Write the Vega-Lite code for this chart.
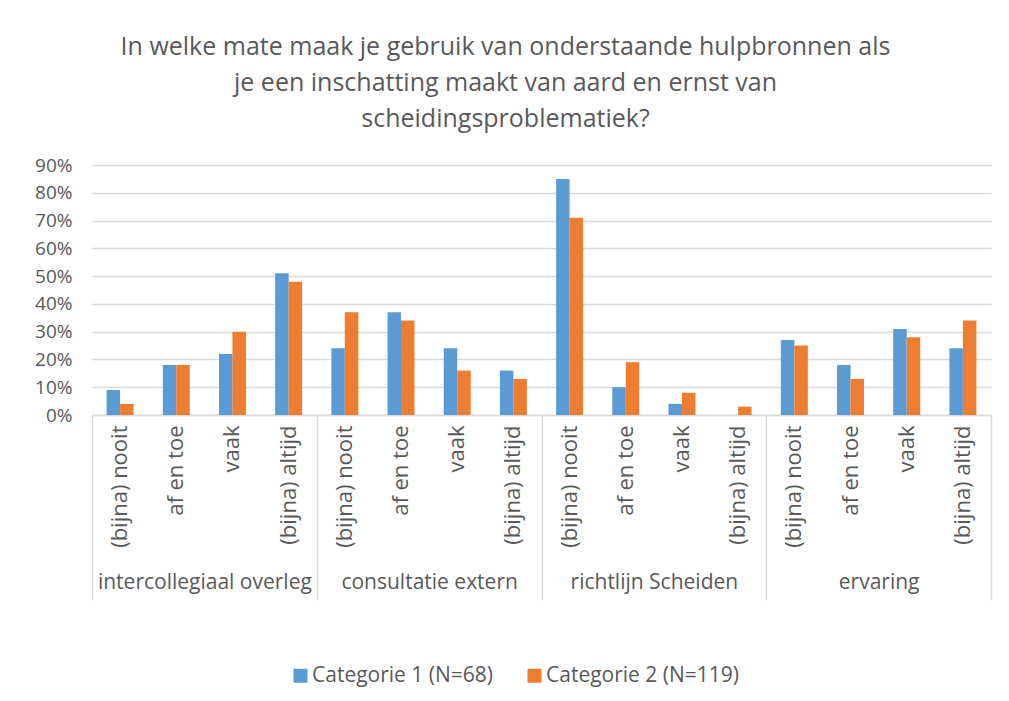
{
  "$schema": "https://vega.github.io/schema/vega-lite/v6.json",
  "width": 899,
  "height": 250,
  "autosize": {"type": "none"},
  "padding": {"left": 92, "top": 165, "right": 18, "bottom": 286},
  "background": "white",
  "title": {
    "text": ["In welke mate maak je gebruik van onderstaande hulpbronnen als", "je een inschatting maakt van aard en ernst van", "scheidingsproblematiek?"],
    "fontSize": 25,
    "font": "Open Sans",
    "fontWeight": "normal",
    "color": "#595959",
    "lineHeight": 36,
    "offset": 24,
    "dx": -36,
    "anchor": "middle"
  },
  "data": {
    "values": [
      {"group": "intercollegiaal overleg", "sub": "(bijna) nooit", "key": "intercollegiaal overleg|(bijna) nooit", "series": "Categorie 1 (N=68)", "value": 0.09},
      {"group": "intercollegiaal overleg", "sub": "(bijna) nooit", "key": "intercollegiaal overleg|(bijna) nooit", "series": "Categorie 2 (N=119)", "value": 0.04},
      {"group": "intercollegiaal overleg", "sub": "af en toe", "key": "intercollegiaal overleg|af en toe", "series": "Categorie 1 (N=68)", "value": 0.18},
      {"group": "intercollegiaal overleg", "sub": "af en toe", "key": "intercollegiaal overleg|af en toe", "series": "Categorie 2 (N=119)", "value": 0.18},
      {"group": "intercollegiaal overleg", "sub": "vaak", "key": "intercollegiaal overleg|vaak", "series": "Categorie 1 (N=68)", "value": 0.22},
      {"group": "intercollegiaal overleg", "sub": "vaak", "key": "intercollegiaal overleg|vaak", "series": "Categorie 2 (N=119)", "value": 0.30},
      {"group": "intercollegiaal overleg", "sub": "(bijna) altijd", "key": "intercollegiaal overleg|(bijna) altijd", "series": "Categorie 1 (N=68)", "value": 0.51},
      {"group": "intercollegiaal overleg", "sub": "(bijna) altijd", "key": "intercollegiaal overleg|(bijna) altijd", "series": "Categorie 2 (N=119)", "value": 0.48},
      {"group": "consultatie extern", "sub": "(bijna) nooit", "key": "consultatie extern|(bijna) nooit", "series": "Categorie 1 (N=68)", "value": 0.24},
      {"group": "consultatie extern", "sub": "(bijna) nooit", "key": "consultatie extern|(bijna) nooit", "series": "Categorie 2 (N=119)", "value": 0.37},
      {"group": "consultatie extern", "sub": "af en toe", "key": "consultatie extern|af en toe", "series": "Categorie 1 (N=68)", "value": 0.37},
      {"group": "consultatie extern", "sub": "af en toe", "key": "consultatie extern|af en toe", "series": "Categorie 2 (N=119)", "value": 0.34},
      {"group": "consultatie extern", "sub": "vaak", "key": "consultatie extern|vaak", "series": "Categorie 1 (N=68)", "value": 0.24},
      {"group": "consultatie extern", "sub": "vaak", "key": "consultatie extern|vaak", "series": "Categorie 2 (N=119)", "value": 0.16},
      {"group": "consultatie extern", "sub": "(bijna) altijd", "key": "consultatie extern|(bijna) altijd", "series": "Categorie 1 (N=68)", "value": 0.16},
      {"group": "consultatie extern", "sub": "(bijna) altijd", "key": "consultatie extern|(bijna) altijd", "series": "Categorie 2 (N=119)", "value": 0.13},
      {"group": "richtlijn Scheiden", "sub": "(bijna) nooit", "key": "richtlijn Scheiden|(bijna) nooit", "series": "Categorie 1 (N=68)", "value": 0.85},
      {"group": "richtlijn Scheiden", "sub": "(bijna) nooit", "key": "richtlijn Scheiden|(bijna) nooit", "series": "Categorie 2 (N=119)", "value": 0.71},
      {"group": "richtlijn Scheiden", "sub": "af en toe", "key": "richtlijn Scheiden|af en toe", "series": "Categorie 1 (N=68)", "value": 0.10},
      {"group": "richtlijn Scheiden", "sub": "af en toe", "key": "richtlijn Scheiden|af en toe", "series": "Categorie 2 (N=119)", "value": 0.19},
      {"group": "richtlijn Scheiden", "sub": "vaak", "key": "richtlijn Scheiden|vaak", "series": "Categorie 1 (N=68)", "value": 0.04},
      {"group": "richtlijn Scheiden", "sub": "vaak", "key": "richtlijn Scheiden|vaak", "series": "Categorie 2 (N=119)", "value": 0.08},
      {"group": "richtlijn Scheiden", "sub": "(bijna) altijd", "key": "richtlijn Scheiden|(bijna) altijd", "series": "Categorie 1 (N=68)", "value": 0.0},
      {"group": "richtlijn Scheiden", "sub": "(bijna) altijd", "key": "richtlijn Scheiden|(bijna) altijd", "series": "Categorie 2 (N=119)", "value": 0.03},
      {"group": "ervaring", "sub": "(bijna) nooit", "key": "ervaring|(bijna) nooit", "series": "Categorie 1 (N=68)", "value": 0.27},
      {"group": "ervaring", "sub": "(bijna) nooit", "key": "ervaring|(bijna) nooit", "series": "Categorie 2 (N=119)", "value": 0.25},
      {"group": "ervaring", "sub": "af en toe", "key": "ervaring|af en toe", "series": "Categorie 1 (N=68)", "value": 0.18},
      {"group": "ervaring", "sub": "af en toe", "key": "ervaring|af en toe", "series": "Categorie 2 (N=119)", "value": 0.13},
      {"group": "ervaring", "sub": "vaak", "key": "ervaring|vaak", "series": "Categorie 1 (N=68)", "value": 0.31},
      {"group": "ervaring", "sub": "vaak", "key": "ervaring|vaak", "series": "Categorie 2 (N=119)", "value": 0.28},
      {"group": "ervaring", "sub": "(bijna) altijd", "key": "ervaring|(bijna) altijd", "series": "Categorie 1 (N=68)", "value": 0.24},
      {"group": "ervaring", "sub": "(bijna) altijd", "key": "ervaring|(bijna) altijd", "series": "Categorie 2 (N=119)", "value": 0.34}
    ]
  },
  "config": {"view": {"stroke": null}, "font": "Open Sans"},
  "layer": [
    {
      "mark": {"type": "bar"},
      "encoding": {
        "x": {
          "field": "key", "type": "nominal", "sort": null,
          "scale": {"paddingInner": 0.52, "paddingOuter": 0.26},
          "axis": {"title": null, "labelExpr": "split(datum.label, '|')[1]", "labelAngle": -90, "labelPadding": 10, "labelFontSize": 22, "labelLimit": 300, "labelColor": "#595959", "ticks": false, "domainColor": "#D9D9D9", "domainWidth": 1.5, "grid": false}
        },
        "xOffset": {"field": "series", "type": "nominal", "sort": null, "scale": {"paddingInner": 0}},
        "y": {
          "field": "value", "type": "quantitative",
          "scale": {"domain": [0, 0.9], "nice": false},
          "axis": {"title": null, "format": ".0%", "values": [0, 0.1, 0.2, 0.3, 0.4, 0.5, 0.6, 0.7, 0.8, 0.9], "labelFontSize": 19, "labelColor": "#595959", "labelPadding": 20, "ticks": false, "domain": false, "gridColor": "#D9D9D9", "gridWidth": 1.5}
        },
        "color": {
          "field": "series", "type": "nominal",
          "scale": {"domain": ["Categorie 1 (N=68)", "Categorie 2 (N=119)"], "range": ["#5B9BD5", "#ED7D31"]},
          "legend": {"orient": "none", "legendX": 198, "legendY": 500, "direction": "horizontal", "title": null, "symbolType": "square", "symbolSize": 196, "symbolStrokeWidth": 0, "labelFontSize": 21, "labelLimit": 400, "labelColor": "#595959", "columnPadding": 30, "labelOffset": 1}
        }
      }
    },
    {
      "mark": {"type": "bar", "opacity": 0},
      "encoding": {
        "x": {
          "field": "group", "type": "nominal", "sort": null,
          "scale": {"paddingInner": 0, "paddingOuter": 0},
          "axis": {"orient": "bottom", "title": null, "labelAngle": 0, "tickBand": "extent", "tickSize": 185, "tickColor": "#D9D9D9", "tickWidth": 1.5, "labelPadding": -29, "labelFontSize": 21, "labelLimit": 400, "labelColor": "#595959", "domain": false, "grid": false}
        }
      }
    }
  ],
  "resolve": {"scale": {"x": "independent"}}
}
